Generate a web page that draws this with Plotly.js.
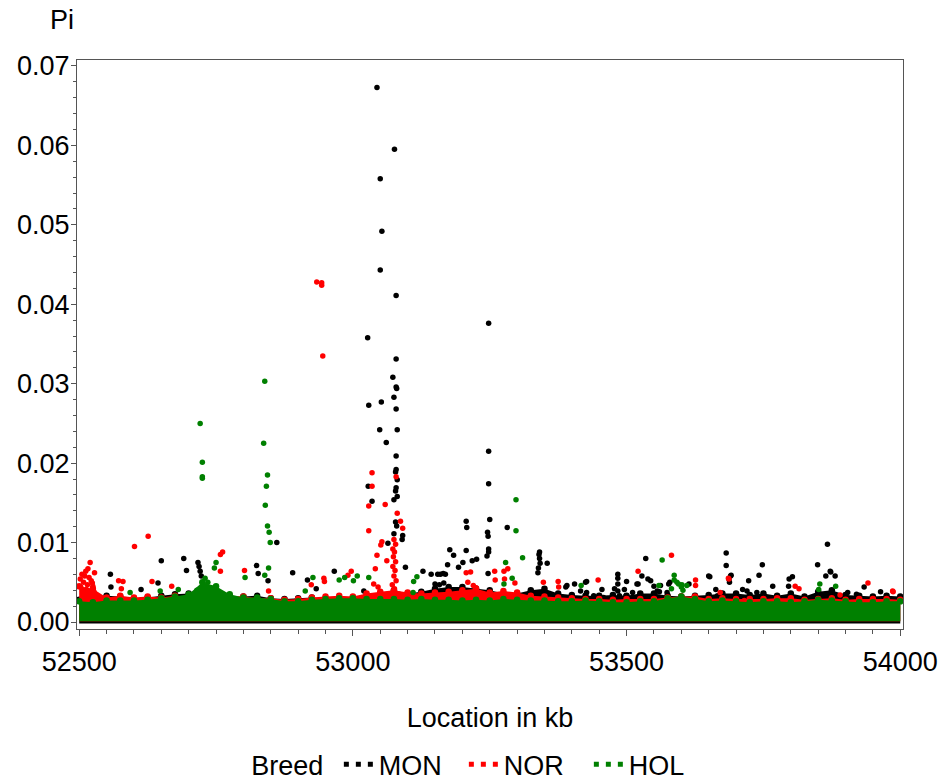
<!DOCTYPE html>
<html><head><meta charset="utf-8">
<script src="https://cdn.plot.ly/plotly-3.0.1.min.js"></script>
<style>html,body{margin:0;padding:0;background:#fff}#chart{width:941px;height:781px}</style>
</head><body><div id="chart"></div>
<script>
// Breeds (legend order) and colours
const breeds = ['MON', 'NOR', 'HOL'];
const breedColors = ['#000000', '#ff0000', '#008000'];

// Dense band of points near zero: upper edge of each breed's band, read every 25 kb
const bandX = [52500,52525,52550,52575,52600,52625,52650,52675,52700,52725,
  52750,52775,52800,52825,52850,52875,52900,52925,52950,52975,
  53000,53025,53050,53075,53100,53125,53150,53175,53200,53225,
  53250,53275,53300,53325,53350,53375,53400,53425,53450,53475,
  53500,53525,53550,53575,53600,53625,53650,53675,53700,53725,
  53750,53775,53800,53825,53850,53875,53900,53925,53950,53975,54000];
const monBandTop = [.0028,.0032,.0033,.0032,.0030,.0031,.0033,.0035,.0036,.0038,
  .0034,.0031,.0032,.0033,.0030,.0029,.0030,.0031,.0030,.0029,
  .0031,.0033,.0036,.0040,.0036,.0038,.0042,.0044,.0044,.0042,
  .0040,.0036,.0036,.0040,.0042,.0036,.0034,.0033,.0033,.0034,
  .0033,.0036,.0036,.0033,.0032,.0033,.0034,.0036,.0036,.0034,
  .0036,.0033,.0036,.0032,.0038,.0040,.0034,.0033,.0032,.0033,.0032];
const norBandTop = [.0045,.0042,.0031,.0033,.0031,.0032,.0031,.0033,.0032,.0034,
  .0037,.0033,.0032,.0030,.0030,.0028,.0029,.0031,.0032,.0033,
  .0032,.0036,.0038,.0040,.0037,.0036,.0037,.0038,.0040,.0042,
  .0037,.0039,.0037,.0033,.0032,.0031,.0030,.0029,.0029,.0028,
  .0029,.0029,.0029,.0031,.0032,.0032,.0029,.0030,.0029,.0029,
  .0029,.0030,.0030,.0028,.0029,.0030,.0028,.0029,.0029,.0029,.0028];
const holBandTop = [.0026,.0025,.0027,.0027,.0027,.0028,.0030,.0032,.0035,.0050,
  .0045,.0035,.0031,.0031,.0029,.0026,.0026,.0028,.0029,.0030,
  .0030,.0029,.0029,.0029,.0028,.0029,.0028,.0028,.0027,.0028,
  .0027,.0029,.0028,.0027,.0027,.0026,.0026,.0027,.0026,.0025,
  .0025,.0026,.0026,.0030,.0032,.0029,.0026,.0027,.0026,.0025,
  .0026,.0026,.0025,.0026,.0028,.0027,.0026,.0025,.0025,.0026,.0026];
const monBandFloor = -0.00018, norBandFloor = 0.0001, holBandFloor = 0.0001;

// Individual points standing out of the band (location in kb, Pi)
const monX = [53044,53076,53050,53053,53050,53079,53248,53027,53079,53073,
  53079,53080,53075,53029,53052,53079,53049,53081,53061,53079,
  53248,53079,53078,53081,53248,53028,53079,53078,53081,53075,
  53035,53250,53207,53208,53282,53246,53247,53078,53080,53075,
  53091,52861,53064,53090,53248,53248,53245,53218,53207,53201,
  53226,53177,53184,53173,53193,53341,53340,53341,53342,53339,
  53338,53355,53535,53682,53682,53690,53748,53742,53867,53849,
  53872,52650,52691,52696,52824,52827,52845,52890,52966,53096,
  53128,52557,52558,52613,52644,52717,52719,52721,52723,52917,
  52933,53020,53143,53155,53160,53165,53169,53150,53158,53166,
  53247,53389,53405,53427,53484,53484,53484,53484,53500,53519,
  53528,53539,53544,53550,53560,53579,53614,53652,53688,53723,
  53767,53797,53803,53796,53864,53873,53881,53904,53920,53934,
  53964,53998,53391,53416,53425,53427,53440,53455,53458,53478,
  53487,53496,53499,53511,53521,53556,53562,53574,53577,53650,
  53663,53666,53687,53691,53700,53712,53720,53738];
const monY = [.0673,.0595,.0558,.0492,.0443,.0411,.0376,.0358,.0331,.0308,
  .0296,.0294,.0283,.0273,.0277,.0268,.0242,.0242,.0226,.0209,
  .0215,.0192,.0189,.0179,.0174,.0171,.0169,.0165,.0158,.0154,
  .0152,.0129,.0127,.0119,.0119,.0113,.0108,.0126,.0121,.0111,
  .0109,.0100,.0099,.0104,.0092,.0088,.0083,.0077,.0090,.0075,
  .0079,.0091,.0084,.0072,.0069,.0088,.0085,.0080,.0074,.0068,
  .0062,.0074,.0080,.0087,.0071,.0058,.0072,.0059,.0098,.0072,
  .0064,.0077,.0080,.0065,.0071,.0061,.0052,.0062,.0064,.0069,
  .0064,.0060,.0044,.0041,.0049,.0075,.0070,.0064,.0058,.0053,
  .0042,.0039,.0060,.0060,.0060,.0061,.0060,.0048,.0047,.0049,
  .0061,.0044,.0048,.0051,.0060,.0055,.0048,.0039,.0051,.0048,
  .0058,.0054,.0052,.0045,.0038,.0050,.0048,.0057,.0050,.0052,
  .0045,.0054,.0057,.0045,.0058,.0063,.0058,.0037,.0035,.0044,
  .0038,.0028,.0046,.0039,.0050,.0037,.0033,.0041,.0031,.0042,
  .0033,.0041,.0033,.0037,.0048,.0039,.0046,.0037,.0048,.0058,
  .0041,.0033,.0054,.0059,.0035,.0041,.0039,.0037];

const norX = [52934,52943,52943,52945,53035,53035,53029,53029,53059,53079,
  53081,53087,53091,52601,52626,53053,53051,53044,53062,53041,
  52758,52762,52758,53259,53276,53283,53582,52520,52516,52512,
  52502,52528,52510,52522,52515,52525,52572,52580,52577,52633,
  52846,52802,52924,52948,52947,52991,52997,53075,53078,53073,
  53076,53074,53078,53073,53077,53075,53079,53072,53076,53207,
  53215,53260,53277,53296,53348,53375,53376,53448,53521,53626,
  53626,53687,53808,53815,53890,53941,53987,53686,53986,53210,
  53220,53225,53038,53046,52669,52505,52508,52518,52524,52513,
  52503,52527,52507,53671,53715];
const norY = [.0428,.0427,.0424,.0335,.0188,.0171,.0146,.0115,.0148,.0183,
  .0137,.0127,.0118,.0095,.0108,.0101,.0097,.0084,.0077,.0067,
  .0085,.0088,.0064,.0064,.0064,.0067,.0084,.0075,.0067,.0064,
  .0054,.0062,.0058,.0052,.0047,.0045,.0052,.0051,.0042,.0051,
  .0039,.0065,.0047,.0051,.0055,.0059,.0064,.0104,.0098,.0092,
  .0088,.0082,.0076,.0070,.0065,.0058,.0052,.0047,.0042,.0062,
  .0063,.0053,.0054,.0049,.0050,.0051,.0044,.0053,.0064,.0053,
  .0046,.0054,.0045,.0042,.0034,.0049,.0038,.0055,.0039,.0050,
  .0046,.0043,.0048,.0044,.0045,.0060,.0050,.0056,.0049,.0041,
  .0044,.0038,.0036,.0037,.0027];

const holX = [52839,52721,52837,52725,52725,52725,52844,52842,52840,52844,
  52847,52849,53298,53298,53310,53279,53565,52750,52747,52846,
  53117,53111,53110,52839,52803,52927,52975,52985,53029,53276,
  53291,53417,53587,53587,53595,53600,53582,53853,53851,53882,
  52730,52735,52728,52740,52715,52593,52648,52681,52913,53001,
  53008,53592,53601,53603,53610,53559];
const holY = [.0303,.0250,.0225,.0201,.0183,.0181,.0185,.0171,.0147,.0121,
  .0113,.0100,.0154,.0115,.0081,.0075,.0078,.0075,.0068,.0068,
  .0057,.0051,.0037,.0059,.0056,.0056,.0053,.0056,.0056,.0048,
  .0055,.0046,.0059,.0053,.0048,.0044,.0042,.0048,.0041,.0045,
  .0055,.0050,.0046,.0043,.0040,.0037,.0039,.0041,.0039,.0052,
  .0058,.0050,.0047,.0040,.0046,.0046];

// Axis ticks
const xTickVals = [52500, 53000, 53500, 54000];
const yTickVals = [0, 0.01, 0.02, 0.03, 0.04, 0.05, 0.06, 0.07];

const bandTops = [monBandTop, norBandTop, holBandTop];
const bandFloors = [monBandFloor, norBandFloor, holBandFloor];
const ptsX = [monX, norX, holX];
const ptsY = [monY, norY, holY];

const FONT = '"Liberation Sans", Arial, sans-serif';
const FS = 27;
const traces = [];
breeds.forEach((b, i) => {
  const c = breedColors[i];
  const revX = bandX.slice().reverse();
  traces.push({
    type: 'scatter', mode: 'lines', name: b, showlegend: false, hoverinfo: 'skip',
    x: bandX.concat(revX),
    y: bandTops[i].concat(revX.map(() => bandFloors[i])),
    fill: 'toself', fillcolor: c, line: {color: c, width: 0}
  });
  traces.push({
    type: 'scatter', mode: 'markers', name: b, showlegend: false,
    x: bandX, y: bandTops[i], marker: {color: c, size: 6.5}
  });
  traces.push({
    type: 'scatter', mode: 'markers', name: b, showlegend: false,
    x: ptsX[i], y: ptsY[i], marker: {color: c, size: 5.5}
  });
});
// legend entries
breeds.forEach((b, i) => {
  traces.push({
    type: 'scatter', mode: 'lines', name: b, x: [null], y: [null],
    line: {color: breedColors[i], width: 5, dash: '5px,7px'}
  });
});

const layout = {
  width: 941, height: 781,
  margin: {l: 77, r: 38, t: 60, b: 152},
  paper_bgcolor: '#ffffff', plot_bgcolor: '#ffffff',
  font: {family: FONT, size: FS, color: '#000'},
  showlegend: true,
  legend: {
    orientation: 'h', xref: 'container', yref: 'container',
    x: 0.512, xanchor: 'center', y: 0.021, yanchor: 'middle',
    font: {family: FONT, size: FS, color: '#000'},
    title: {text: 'Breed\u00a0', side: 'left', font: {family: FONT, size: FS, color: '#000'}},
    itemwidth: 30, entrywidth: 80, traceorder: 'normal', bgcolor: 'rgba(0,0,0,0)'
  },
  xaxis: {
    range: [52496, 54005], tickvals: xTickVals, tickformat: 'd', automargin: false,
    showgrid: false, zeroline: false, showline: true, mirror: true,
    linecolor: '#555', linewidth: 1, ticklabeloverflow: 'allow',
    ticks: 'outside', ticklen: 6, tickcolor: '#555', ticklabelstandoff: 3,
    minor: {dtick: 50, tick0: 52500, ticks: 'outside', ticklen: 4, tickcolor: '#555', showgrid: false},
    tickfont: {family: FONT, size: FS, color: '#000'},
    title: {text: 'Location in kb', font: {family: FONT, size: FS, color: '#000'}, standoff: 31}
  },
  yaxis: {
    range: [-0.00088, 0.07075], tickvals: yTickVals, tickformat: '.2f', automargin: false,
    showgrid: false, zeroline: false, showline: true, mirror: true,
    linecolor: '#555', linewidth: 1, ticklabeloverflow: 'allow',
    ticks: 'outside', ticklen: 5, tickcolor: '#555', ticklabelstandoff: -4,
    minor: {dtick: 0.002, tick0: 0, ticks: 'outside', ticklen: 3, tickcolor: '#555', showgrid: false},
    tickfont: {family: FONT, size: FS, color: '#000'}
  },
  annotations: [{
    text: 'Pi', xref: 'paper', yref: 'paper', x: -0.018, y: 1.07,
    xanchor: 'center', yanchor: 'middle', showarrow: false,
    font: {family: FONT, size: FS, color: '#000'}
  }]
};

Plotly.newPlot('chart', traces, layout, {displayModeBar: false, staticPlot: true});
</script>
</body></html>
